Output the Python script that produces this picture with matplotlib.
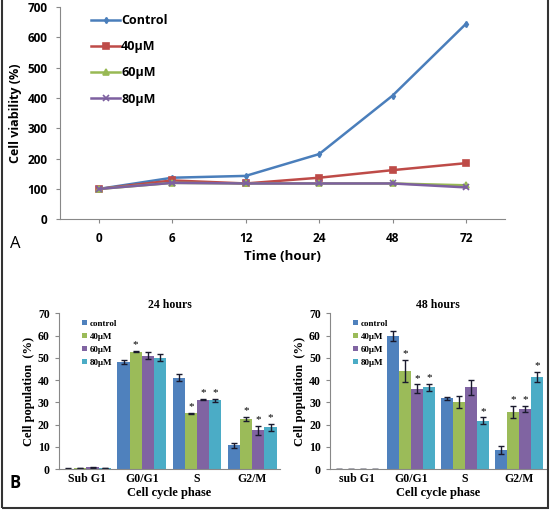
import matplotlib
matplotlib.use("Agg")
import matplotlib.pyplot as plt
import matplotlib.patches as mpatches
import numpy as np

# Panel A: cell viability over time
times = ["0", "6", "12", "24", "48", "72"]
control = [100, 137, 143, 215, 408, 645]
uM40 = [100, 128, 118, 137, 162, 185]
uM60 = [100, 120, 118, 118, 118, 112]
uM80 = [100, 120, 118, 118, 118, 105]

# Panel B: cell cycle distribution
phases_24 = ["Sub G1", "G0/G1", "S", "G2/M"]
phases_48 = ["sub G1", "G0/G1", "S", "G2/M"]
groups = ["control", "40\u03bcM", "60\u03bcM", "80\u03bcM"]

h24_mean = [[0.2, 48.0, 41.0, 10.7],
            [0.4, 52.8, 25.0, 22.5],
            [0.8, 51.0, 31.2, 17.5],
            [0.4, 50.0, 31.0, 18.8]]
h24_err = [[0.1, 1.0, 1.5, 1.0],
           [0.1, 0.3, 0.4, 0.8],
           [0.2, 1.5, 0.3, 2.0],
           [0.1, 1.5, 0.7, 1.5]]
h24_star = [[0, 0, 0, 0], [0, 1, 1, 1], [0, 0, 1, 1], [0, 0, 1, 1]]

h48_mean = [[0.2, 59.7, 31.8, 8.5],
            [0.2, 44.0, 30.0, 25.7],
            [0.2, 36.0, 36.8, 27.0],
            [0.2, 36.8, 21.7, 41.5]]
h48_err = [[0.05, 2.3, 0.8, 1.8],
           [0.05, 5.0, 2.7, 2.7],
           [0.05, 2.0, 3.3, 1.5],
           [0.05, 1.5, 1.5, 2.3]]
h48_star = [[0, 0, 0, 0], [0, 1, 0, 1], [0, 1, 0, 1], [0, 1, 1, 1]]

LINE_COLORS = ["#4A7EBB", "#BE4B48", "#98B954", "#7D60A0"]
BAR_COLORS = ["#4F81BD", "#9BBB59", "#8064A2", "#4BACC6"]
SPINE = "#888888"
SANS = ["Open Sans", "DejaVu Sans"]
SERIF = ["Liberation Serif", "DejaVu Serif"]

fig = plt.figure(figsize=(5.5, 5.11), dpi=100)

# ---- Panel A ----
ax = fig.add_axes([0.109, 0.571, 0.809, 0.415])
x = np.arange(len(times))
series = [("Control", control, "d", 3), ("40\u03bcM", uM40, "s", 4),
          ("60\u03bcM", uM60, "^", 4), ("80\u03bcM", uM80, "x", 4)]
for (lbl, vals, mk, ms), c in zip(series, LINE_COLORS):
    ax.plot(x, vals, color=c, lw=1.8, marker=mk, ms=ms, label=lbl, mew=1.2)
ax.set_xlim(-0.53, 5.53)
ax.set_ylim(0, 700)
ax.set_yticks(range(0, 701, 100))
ax.set_xticks(x)
ax.set_xticklabels(times)
for s in ["top", "right"]:
    ax.spines[s].set_visible(False)
for s in ["left", "bottom"]:
    ax.spines[s].set_color(SPINE)
ax.tick_params(colors=SPINE, length=3, labelsize=8.5, labelcolor="black", pad=6)
for t in ax.get_xticklabels() + ax.get_yticklabels():
    t.set_fontweight("bold")
    t.set_family(SANS)
ax.set_ylabel("Cell viability (%)", fontsize=9, fontweight="bold", family=SANS)
ax.set_xlabel("Time (hour)", fontsize=9.5, fontweight="bold", family=SANS, labelpad=4)
leg = ax.legend(loc="upper left", bbox_to_anchor=(0.045, 1.02), frameon=False,
                prop={"family": SANS, "weight": "bold", "size": 9},
                handlelength=2.3, labelspacing=1.05, handletextpad=0.1)
fig.text(0.018, 0.522, "A", fontsize=12, family=SANS, va="center")


# ---- Panel B ----
def bar_panel(rect, phases, means, errs, stars, title):
    ax = fig.add_axes(rect)
    xc = np.arange(len(phases))
    w = 0.22
    for i in range(len(groups)):
        xs = xc + (i - 1.5) * w
        ax.bar(xs, means[i], w, color=BAR_COLORS[i], label=groups[i],
               yerr=errs[i], error_kw=dict(ecolor="#1a1a2e", elinewidth=1,
                                           capsize=2.2, capthick=1))
        for j in range(len(phases)):
            if stars[i][j]:
                ax.text(xs[j], means[i][j] + errs[i][j] + 0.8, "*",
                        ha="center", va="bottom", fontsize=8, family=SERIF)
    ax.set_xlim(-0.5, len(phases) - 0.5)
    ax.set_ylim(0, 70)
    ax.set_yticks(range(0, 71, 10))
    ax.set_xticks(xc)
    ax.set_xticklabels(phases)
    for s in ["top", "right"]:
        ax.spines[s].set_visible(False)
    for s in ["left", "bottom"]:
        ax.spines[s].set_color(SPINE)
    ax.tick_params(axis="y", colors=SPINE, length=3, labelcolor="black",
                   labelsize=8.5)
    ax.tick_params(axis="x", length=0, labelsize=8.5, pad=3)
    for t in ax.get_xticklabels() + ax.get_yticklabels():
        t.set_fontweight("bold")
        t.set_family(SERIF)
    ax.set_ylabel("Cell population  (%)", fontsize=9, fontweight="bold",
                  family=SERIF, labelpad=2)
    ax.set_xlabel("Cell cycle phase", fontsize=9, fontweight="bold",
                  family=SERIF, labelpad=1)
    ax.set_title(title, fontsize=8.5, fontweight="bold", family=SERIF, pad=4)
    ax.legend(loc="upper left", bbox_to_anchor=(0.07, 1.01), frameon=False,
              prop={"family": SERIF, "weight": "bold", "size": 6.5},
              handlelength=0.5, handleheight=0.5, labelspacing=0.55,
              handletextpad=0.3)
    return ax


bar_panel([0.107, 0.082, 0.402, 0.305], phases_24, h24_mean, h24_err,
          h24_star, "24 hours")
bar_panel([0.600, 0.082, 0.393, 0.305], phases_48, h48_mean, h48_err,
          h48_star, "48 hours")
fig.text(0.018, 0.055, "B", fontsize=12, family=SANS, va="center",
         fontweight="bold")

# outer frame
fig.patches.append(mpatches.Rectangle((0.004, 0.006), 0.992, 1.1,
                                      transform=fig.transFigure, fill=False,
                                      edgecolor="#333333", lw=1.5))

fig.savefig("out.png", dpi=100)
